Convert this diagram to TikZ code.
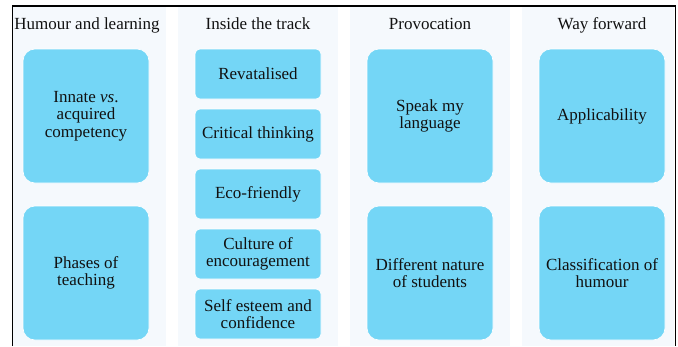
\documentclass[tikz,border=0pt]{standalone}
\usepackage{fontspec}
\setmainfont{Liberation Serif}
\definecolor{panelbg}{HTML}{F5F9FD}
\definecolor{boxfill}{HTML}{74D6F6}
\definecolor{txt}{HTML}{111111}
\begin{document}
\begin{tikzpicture}[x=1pt,y=-1pt,
  panel/.style={fill=panelbg},
  bigbox/.style={fill=boxfill,draw=white,line width=0.6pt,rounded corners=12pt,minimum width=126pt,minimum height=134pt,align=center,inner sep=2pt,text=txt,font=\fontsize{17}{17.3}\selectfont},
  smallbox/.style={fill=boxfill,draw=white,line width=0.6pt,rounded corners=5pt,minimum width=126pt,minimum height=50pt,align=center,inner sep=2pt,text=txt,font=\fontsize{17}{17.3}\selectfont},
  header/.style={anchor=base,text=txt,font=\fontsize{17}{17.3}\selectfont,inner sep=0pt}]
\useasboundingbox (0,0) rectangle (678,346);
% panels
\fill[panel] (13,7) rectangle (166,346);
\fill[panel] (178,7) rectangle (338,346);
\fill[panel] (350,7) rectangle (510,346);
\fill[panel] (522,7) rectangle (674,346);
% frame
\draw[line width=1.3pt] (12.7,346) -- (12.7,6) -- (675.5,6) -- (675.5,346);
% headers
\node[header] (h1) at (87,29.5) {Humour and learning};
\node[header] (h2) at (258,29.5) {Inside the track};
\node[header] (h3) at (430,29.5) {Provocation};
\node[header] (h4) at (602,29.5) {Way forward};
% column 1
\node[bigbox] (innate) at (86,116) {Innate \textit{vs}.\\acquired\\competency};
\node[bigbox] (phases) at (86,273) {Phases of\\teaching};
% column 2
\node[smallbox] (rev) at (258,74) {Revatalised};
\node[smallbox] (crit) at (258,134) {Critical thinking};
\node[smallbox] (eco) at (258,194) {Eco-friendly};
\node[smallbox] (cult) at (258,254) {Culture of\\encouragement};
\node[smallbox] (self) at (258,314) {Self esteem and\\confidence};
% column 3
\node[bigbox] (speak) at (430,116) {Speak my\\language};
\node[bigbox] (diff) at (430,273) {Different nature\\of students};
% column 4
\node[bigbox] (appl) at (602,116) {Applicability};
\node[bigbox] (class) at (602,273) {Classification of\\humour};
\end{tikzpicture}
\end{document}
